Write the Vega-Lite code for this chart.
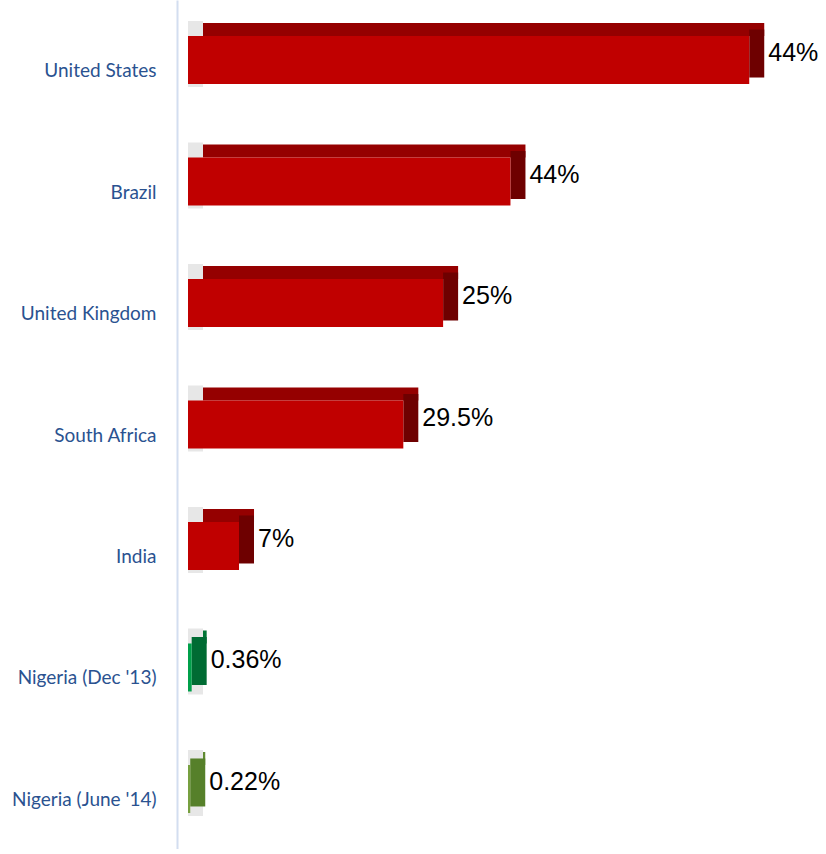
{
  "$schema": "https://vega.github.io/schema/vega-lite/v6.json",
  "autosize": "none",
  "padding": {"left": 177, "top": 0, "right": 0, "bottom": 0},
  "width": 649,
  "height": 849,
  "background": "white",
  "config": {"view": {"stroke": null}},
  "data": {
    "values": [
      {"country": "United States", "len": 55, "label": "44%", "group": "A"},
      {"country": "Brazil", "len": 31.6, "label": "44%", "group": "A"},
      {"country": "United Kingdom", "len": 25, "label": "25%", "group": "A"},
      {"country": "South Africa", "len": 21.1, "label": "29.5%", "group": "A"},
      {"country": "India", "len": 5, "label": "7%", "group": "A"},
      {"country": "Nigeria (Dec '13)", "len": 0.36, "label": "0.36%", "group": "B"},
      {"country": "Nigeria (June '14)", "len": 0.22, "label": "0.22%", "group": "C"}
    ]
  },
  "encoding": {
    "y": {
      "field": "country",
      "type": "nominal",
      "sort": null,
      "scale": {"paddingInner": 0.6, "paddingOuter": 0.294},
      "axis": {
        "title": null,
        "ticks": false,
        "labelPadding": 21,
        "labelOffset": 11,
        "labelFont": "Lato",
        "labelFontSize": 19,
        "labelColor": "#2a5290",
        "domainColor": "#d3def0",
        "domainWidth": 2
      }
    }
  },
  "layer": [
    {
      "mark": {"type": "bar", "height": 66, "yOffset": -6, "xOffset": 11, "x2Offset": 26, "color": "#d4d4d4", "opacity": 0.55},
      "encoding": {"x": {"datum": 0, "type": "quantitative", "scale": {"domain": [0, 63.6], "nice": false}, "axis": null}, "x2": {"datum": 0}}
    },
    {
      "mark": {"type": "bar", "height": 13, "xOffset": 26, "x2Offset": 26, "yOffset": -30.5},
      "encoding": {
        "x": {"field": "len", "type": "quantitative", "scale": {"domain": [0, 63.6], "nice": false}, "axis": null},
        "x2": {"datum": 0},
        "color": {
          "field": "group",
          "type": "nominal",
          "scale": {"domain": ["A", "B", "C"], "range": ["#950000", "#007535", "#5f8a30"]},
          "legend": null
        }
      }
    },
    {
      "mark": {"type": "bar", "height": 48, "xOffset": 11, "x2Offset": 26, "yOffset": -6.5},
      "encoding": {
        "x": {"field": "len", "type": "quantitative", "scale": {"domain": [0, 63.6], "nice": false}, "axis": null},
        "x2": {"field": "len"},
        "color": {
          "field": "group",
          "type": "nominal",
          "scale": {"domain": ["A", "B", "C"], "range": ["#6e0000", "#006b33", "#56802a"]},
          "legend": null
        }
      }
    },
    {
      "mark": {"type": "bar", "height": 48, "xOffset": 11, "x2Offset": 11},
      "encoding": {
        "x": {"field": "len", "type": "quantitative", "scale": {"domain": [0, 63.6], "nice": false}, "axis": null},
        "x2": {"datum": 0},
        "color": {
          "field": "group",
          "type": "nominal",
          "scale": {"domain": ["A", "B", "C"], "range": ["#c00000", "#00a04a", "#77a040"]},
          "legend": null
        }
      }
    },
    {
      "mark": {
        "type": "text",
        "align": "left",
        "baseline": "middle",
        "dx": 30,
        "dy": -7,
        "font": "Liberation Sans",
        "fontSize": 25,
        "color": "black"
      },
      "encoding": {
        "x": {"field": "len", "type": "quantitative", "scale": {"domain": [0, 63.6], "nice": false}, "axis": null},
        "text": {"field": "label", "type": "nominal"}
      }
    }
  ],
  "resolve": {"scale": {"color": "independent"}}
}
